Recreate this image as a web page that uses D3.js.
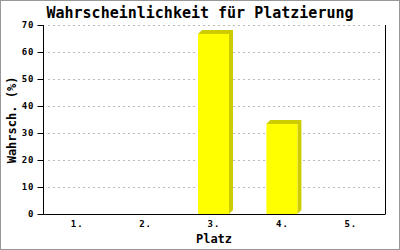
<html>
<head>
<script src="https://d3js.org/d3.v7.min.js"></script>
<style>
  body { margin: 0; background: #fff; }
  text { font-family: "DejaVu Sans Mono", "Liberation Mono", monospace; font-weight: bold; fill: #000; }
</style>
</head>
<body>
<svg width="400" height="250"></svg>
<script>
var places = ["1.", "2.", "3.", "4.", "5."];
var probs = [0, 0, 66.67, 33.33, 0];
var yTicks = [0, 10, 20, 30, 40, 50, 60, 70];

var svg = d3.select("svg");
var plotLeft = 43, plotRight = 385, plotTop = 25, plotBottom = 214;
var depth = 4;

// outer frame
svg.append("rect").attr("x", 0.5).attr("y", 0.5).attr("width", 399).attr("height", 249)
  .attr("fill", "#fff").attr("stroke", "#999");

var x = d3.scaleBand().domain(places).range([plotLeft, plotRight]);
var y = d3.scaleLinear().domain([0, 70]).range([plotBottom, plotTop]);

// gridlines
svg.append("g").selectAll("line").data(yTicks.slice(1)).enter().append("line")
  .attr("x1", plotLeft + 5).attr("x2", plotRight - 2)
  .attr("y1", function(d) { return Math.round(y(d)) + 0.5; })
  .attr("y2", function(d) { return Math.round(y(d)) + 0.5; })
  .attr("stroke", "#bbb").attr("stroke-dasharray", "2,3");

// bars with a small 3d side
var bars = svg.append("g").selectAll("g").data(places.filter(function(p, i) { return probs[i] > 0; }))
  .enter().append("g");
bars.append("polygon")
  .attr("points", function(p) {
    var v = probs[places.indexOf(p)];
    var x0 = x(p) + x.bandwidth() / 2 - 16, x1 = x0 + 31, t = Math.round(y(v));
    return [[x0, t], [x0 + depth, t - depth], [x1 + depth, t - depth], [x1 + depth, plotBottom - depth], [x1, plotBottom], [x1, t]].join(" ");
  })
  .attr("fill", "#cccc00");
bars.append("rect")
  .attr("x", function(p) { return x(p) + x.bandwidth() / 2 - 16; })
  .attr("y", function(p) { return Math.round(y(probs[places.indexOf(p)])); })
  .attr("width", 31)
  .attr("height", function(p) { return plotBottom - Math.round(y(probs[places.indexOf(p)])); })
  .attr("fill", "#ffff00");

// y axis
var yAxis = svg.append("g").attr("transform", "translate(" + (plotLeft + 0.5) + ",0)")
  .call(d3.axisLeft(y).tickValues(yTicks).tickSize(6).tickPadding(3).tickFormat(d3.format("d")));
yAxis.select(".domain").attr("d", "M0," + plotTop + "V" + (plotBottom + 0.5));
yAxis.selectAll("line").attr("stroke", "#000");
yAxis.selectAll("text").style("font-size", "9px").style("letter-spacing", "1px");

// x axis
var xAxis = svg.append("g").attr("transform", "translate(0," + (plotBottom + 0.5) + ")")
  .call(d3.axisBottom(x).tickSize(0).tickPadding(6));
xAxis.select(".domain").attr("d", "M" + plotLeft + ",0H" + (plotRight + 0.5));
xAxis.selectAll("text").style("font-size", "9px").style("letter-spacing", "1px");

// right border of plot
svg.append("line").attr("x1", plotRight + 0.5).attr("x2", plotRight + 0.5).attr("y1", plotTop).attr("y2", plotBottom)
  .attr("stroke", "#000");

// titles
svg.append("text").attr("x", 200).attr("y", 18).attr("text-anchor", "middle")
  .style("font-size", "15px").text("Wahrscheinlichkeit für Platzierung");
svg.append("text").attr("x", 214).attr("y", 243).attr("text-anchor", "middle")
  .style("font-size", "12px").text("Platz");
svg.append("text").attr("transform", "translate(16,120) rotate(-90)").attr("text-anchor", "middle")
  .style("font-size", "12px").text("Wahrsch. (%)");
</script>
</body>
</html>
